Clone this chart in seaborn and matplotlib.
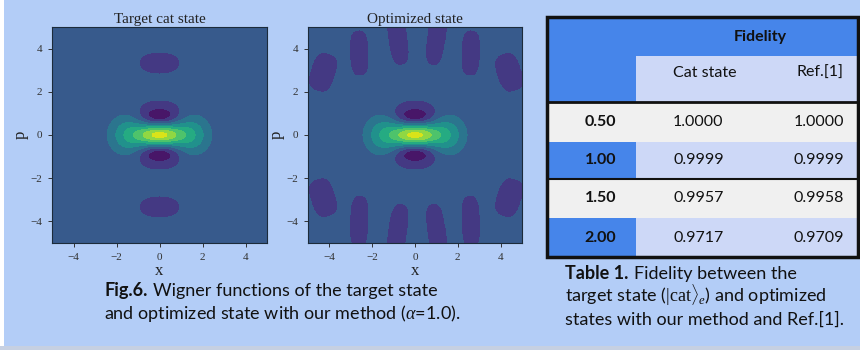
import numpy as np
import matplotlib
matplotlib.use("Agg")
import matplotlib.pyplot as plt
from matplotlib.patches import Rectangle
from matplotlib.text import Annotation
import seaborn as sns

# ---------------- data ----------------
# target: even cat state, alpha = 1.0 (two lobes on x, fringes along p)
lobe_x = [-1.41, 1.41]      # lobe centres on the x axis
fringe_k = 2.83             # fringe wave number along p (minima near p = +-1.1, +-3.3)
peak_w = 0.318              # W(0, 0)

# optimized state: same core, plus small negative spots near the edge
spot_x = [-4.3, -2.6, -0.8, 1.0, 2.6, 4.4, -4.3, -2.6, -0.8, 1.0, 2.6, 4.4]
spot_p = [2.9, 3.8, 4.5, 4.5, 3.8, 2.9, -2.9, -4.0, -4.4, -4.4, -4.0, -2.9]
spot_minor = [0.58, 0.44, 0.46, 0.44, 0.44, 0.58, 0.58, 0.44, 0.46, 0.44, 0.44, 0.58]
spot_major = [0.9, 1.05, 1.3, 1.3, 1.05, 0.9, 0.9, 1.2, 1.25, 1.25, 1.2, 0.9]
spot_angle = [72, 92, 98, 82, 88, 108, 108, 88, 82, 98, 92, 72]
spot_depth = -0.03
# small positive patch where the far fringes of the target vanish
calm_p = [3.3, -3.3]

levels = [-0.1, -0.05, 0.0, 0.05, 0.1, 0.15, 0.2, 0.25, 0.3, 0.35]

# table
alphas = ["0.50", "1.00", "1.50", "2.00"]
fid_cat = ["1.0000", "0.9999", "0.9957", "0.9717"]
fid_ref = ["1.0000", "0.9999", "0.9958", "0.9709"]

# ---------------- fields ----------------
xs = np.linspace(-5, 5, 401)
X, P = np.meshgrid(xs, xs)
amp = peak_w / (2 + 2 * np.exp(-lobe_x[1] ** 2))
target = amp * (np.exp(-(X - lobe_x[0]) ** 2 - P ** 2)
                + np.exp(-(X - lobe_x[1]) ** 2 - P ** 2)
                + 2 * np.exp(-X ** 2 - P ** 2) * np.cos(fringe_k * P))

spots = np.zeros_like(X)
for sx, sp, a, b, ang in zip(spot_x, spot_p, spot_minor, spot_major, spot_angle):
    t = np.deg2rad(ang)
    u = (X - sx) * np.cos(t) + (P - sp) * np.sin(t)
    v = -(X - sx) * np.sin(t) + (P - sp) * np.cos(t)
    # blunt, bean-like spots
    d2 = np.abs(u / b) ** 3 + np.abs(v / a) ** 3
    spots = np.minimum(spots, np.where(d2 < 1, spot_depth * (1 - d2), 0))
calm = sum(0.002 * np.exp(-X ** 2 - (P - cp) ** 2) for cp in calm_p)
optimized = target + calm + spots

# ---------------- figure ----------------
sns.set_style("ticks")
plt.rcParams["font.family"] = ["Liberation Serif", "DejaVu Serif"]
plt.rcParams["mathtext.fontset"] = "custom"
plt.rcParams["mathtext.rm"] = "Liberation Serif"
plt.rcParams["mathtext.it"] = "Liberation Serif:italic"

bg = "#b3cdf7"
fig = plt.figure(figsize=(8.6, 3.5), dpi=100, facecolor=bg)
W, H = 860, 350


def box(l, t, r, b):
    return [l / W, 1 - b / H, (r - l) / W, (b - t) / H]


cmap = sns.color_palette("viridis", as_cmap=True)

for rect, field, title in [(box(52, 27, 267, 243), target, "Target cat state"),
                           (box(308, 27, 522, 243), optimized, "Optimized state")]:
    ax = fig.add_axes(rect)
    ax.contourf(X, P, field, levels=levels, cmap=cmap, vmin=levels[0], vmax=levels[-1])
    ax.set_xlim(-5, 5)
    ax.set_ylim(-5, 5)
    ax.set_xticks([-4, -2, 0, 2, 4])
    ax.set_yticks([-4, -2, 0, 2, 4])
    ax.tick_params(labelsize=8, colors="#333333", length=3, width=0.7, pad=4)
    for s in ax.spines.values():
        s.set_color("#1c2b3a")
        s.set_linewidth(0.8)
    ax.set_title(title, fontsize=11, color="#222222", pad=3)
    ax.set_xlabel("x", fontsize=12, color="#222222", labelpad=1)
    ax.set_ylabel("p", fontsize=12, color="#222222", labelpad=1)

# ---------------- table ----------------
blue = "#4685ea"
lav = "#cdd8f7"
grey = "#f0f0f0"
ax_t = fig.add_axes(box(547, 17, 858, 257))
ax_t.set_xlim(0, 311)
ax_t.set_ylim(240, 0)
ax_t.axis("off")
col_edges = [0, 89, 311]
row_edges = [0, 39, 85, 125, 162, 201, 240]


def cell(c0, c1, r0, r1, color):
    ax_t.add_patch(Rectangle((col_edges[c0], row_edges[r0]),
                             col_edges[c1] - col_edges[c0],
                             row_edges[r1] - row_edges[r0],
                             facecolor=color, edgecolor="none"))


cell(0, 1, 0, 2, blue)
cell(1, 2, 0, 1, blue)
cell(1, 2, 1, 2, lav)
for i in range(len(alphas)):
    r = i + 2
    if i % 2 == 0:
        cell(0, 2, r, r + 1, grey)
    else:
        cell(0, 1, r, r + 1, blue)
        cell(1, 2, r, r + 1, lav)

tfont = dict(family=["Lato", "DejaVu Sans"], fontsize=11.5, color="#111111")
ax_t.text(213, 20, "Fidelity", ha="center", va="center", fontweight="bold", **tfont)
ax_t.text(126, 56, "Cat state", ha="left", va="center", **tfont)
ax_t.text(297, 56, "Ref.[1]", ha="right", va="center", **tfont)
for i, (a, c, rf) in enumerate(zip(alphas, fid_cat, fid_ref)):
    y = (row_edges[i + 2] + row_edges[i + 3]) / 2
    ax_t.text(69, y, a, ha="right", va="center", fontweight="bold", **tfont)
    ax_t.text(126, y, c, ha="left", va="center", **tfont)
    ax_t.text(297, y, rf, ha="right", va="center", **tfont)

ax_t.plot([0, 311], [row_edges[2]] * 2, color="#111111", lw=2, clip_on=False)
ax_t.plot([0, 311], [row_edges[4]] * 2, color="#111111", lw=1.5, clip_on=False)
ax_t.add_patch(Rectangle((0, 0), 311, 240, facecolor="none", edgecolor="#111111",
                         lw=2.5, clip_on=False))

# ---------------- captions ----------------
cfont = dict(family=["Lato", "DejaVu Sans"], fontsize=13, color="#111111")


def caption(x, y, bold, rest):
    t = fig.text(x / W, 1 - y / H, bold, fontweight="bold", va="baseline", **cfont)
    fig.add_artist(Annotation(rest, xy=(1, 0), xycoords=t, xytext=(4, 0),
                              textcoords="offset points", va="bottom", ha="left",
                              **cfont))


caption(104, 296, "Fig.6.", "Wigner functions of the target state")
fig.text(104 / W, 1 - 319 / H, r"and optimized state with our method ($\mathit{\alpha}$=1.0).",
         va="baseline", **cfont)
caption(565, 279, "Table 1.", "Fidelity between the")
fig.text(565 / W, 1 - 302 / H, r"target state ($|\mathrm{cat}\rangle_e$) and optimized",
         va="baseline", **cfont)
fig.text(565 / W, 1 - 325 / H, "states with our method and Ref.[1].", va="baseline", **cfont)

# page edges
fig.add_artist(Rectangle((0, 0), 4 / W, 1, transform=fig.transFigure,
                         facecolor="white", edgecolor="none"))
fig.add_artist(Rectangle((0, 0), 1, 4 / H, transform=fig.transFigure,
                         facecolor="#c6d0e2", edgecolor="none"))

fig.savefig("out.png", dpi=100, facecolor=bg)
